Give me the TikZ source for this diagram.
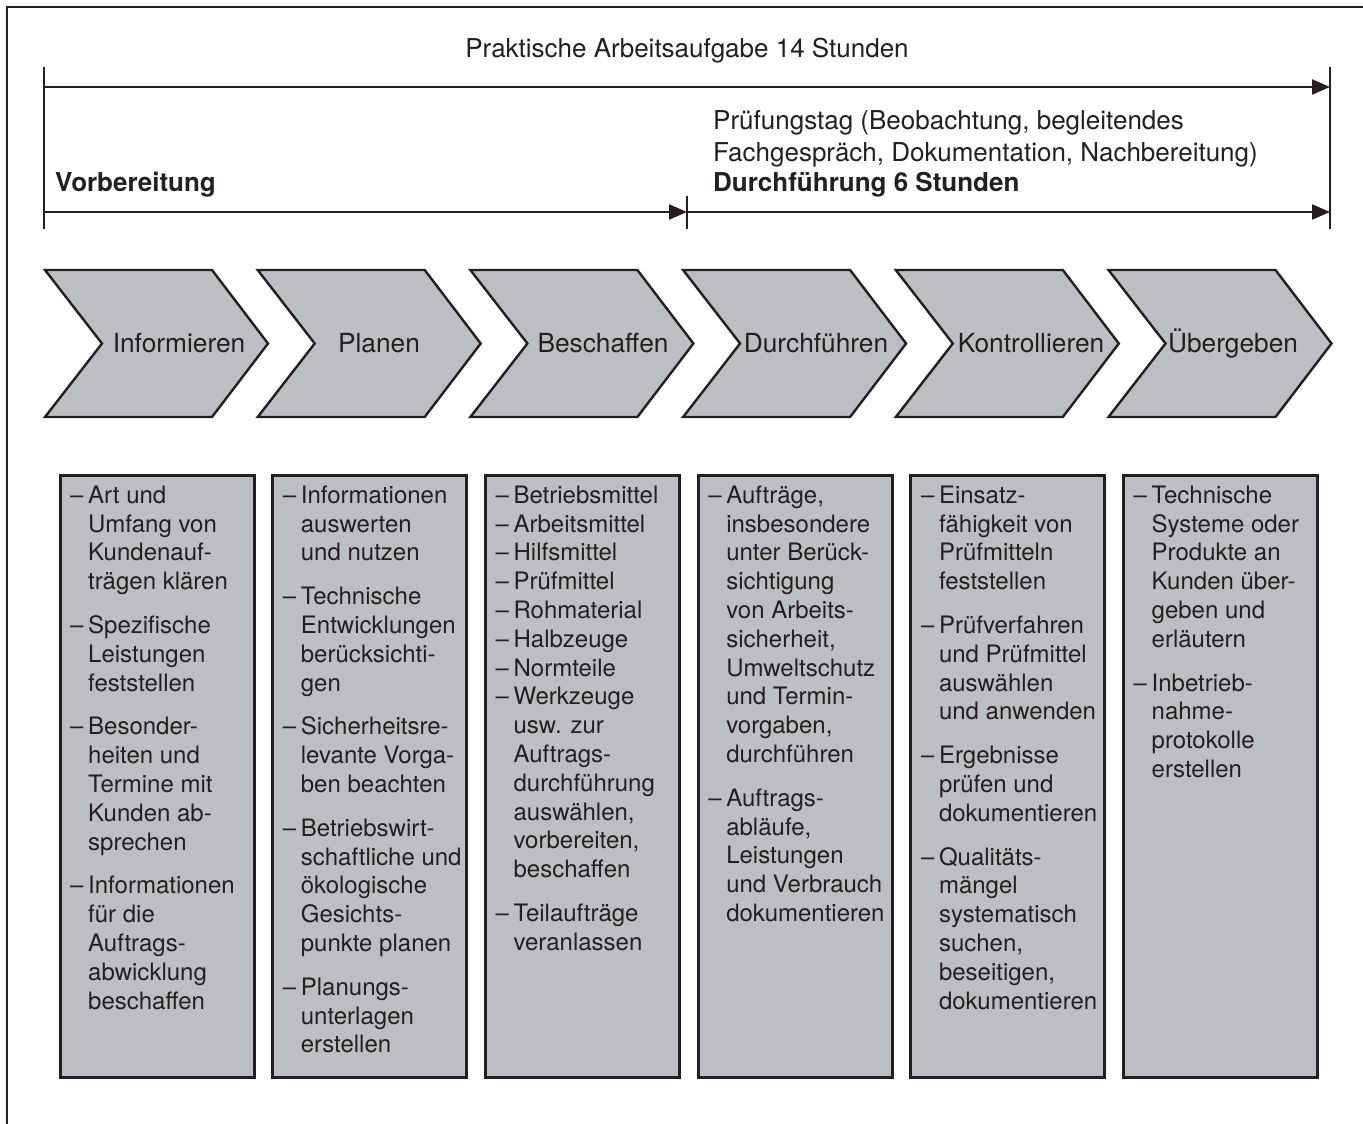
\documentclass[tikz,border=0pt]{standalone}
\usepackage{fontspec}
\setmainfont{TeX Gyre Heros}
\usetikzlibrary{arrows.meta}
\definecolor{ink}{HTML}{231F20}
\definecolor{boxgray}{HTML}{BDBEC2}
\newcommand\da{\makebox[18pt][l]{–}}
\newcommand\ii{\hspace*{18pt}}
\newcommand\fl{\rule{0pt}{18pt}}
\tikzset{
  frameline/.style={line width=2.5pt, draw=ink},
  span/.style={line width=2.2pt, draw=ink, -{Triangle[length=18pt,width=15pt]}},
  tick/.style={line width=2.2pt, draw=ink},
  chev/.style={line width=2.4pt, draw=ink, fill=boxgray, line join=miter},
  chevtext/.style={font=\fontsize{26.3}{31}\selectfont, text=ink, anchor=base, inner sep=0pt},
  listbox/.style={line width=3pt, draw=ink, fill=boxgray},
  listtext/.style={font=\fontsize{24}{28.8}\selectfont, text=ink, align=left, anchor=north west, inner sep=0pt},
  toptext/.style={font=\fontsize{26}{31}\selectfont, text=ink, inner sep=0pt, anchor=base west},
}
\begin{document}
\begin{tikzpicture}[x=1pt,y=-1pt]
\useasboundingbox (0,0) rectangle (1363,1124);
% outer frame (only top and left visible)
\draw[frameline] (1370,7) -- (7,7) -- (7,1130);
% spans
\coordinate (L) at (44,87);
\coordinate (R) at (1330,87);
\coordinate (M) at (687,212);
\coordinate (L2) at (44,212);
\coordinate (R2) at (1330,212);
\draw[tick] (44,67) -- (44,229);
\draw[tick] (1330,67) -- (1330,229);
\draw[tick] (687,196) -- (687,229);
\draw[span] (L) -- (R);
\draw[span] (L2) -- (M);
\draw[span] (M) -- (R2);
\node[font=\fontsize{26}{31}\selectfont, text=ink, anchor=base, inner sep=0pt] (title) at (687,58) {Praktische Arbeitsaufgabe 14 Stunden};
\node[toptext] (vorb) at (55,191) {\bfseries Vorbereitung};
\node[toptext] (pt1) at (713,129) {Prüfungstag (Beobachtung, begleitendes};
\node[toptext] (pt2) at (713,161) {Fachgespräch, Dokumentation, Nachbereitung)};
\node[toptext] (durch) at (713,191) {\bfseries Durchführung 6 Stunden};
% chevrons
\foreach \i in {0,...,5}{
  \pgfmathsetmacro\xo{45+212.7*\i}
  \draw[chev] (\xo,270) -- ++(167,0) -- ++(56,73.5) -- ++(-56,73.5) -- ++(-167,0) -- ++(57,-73.5) -- cycle;
  \draw[listbox] (60+212.7*\i,475) rectangle ++(194,602);
}
\node[chevtext] (c1) at (179,352) {Informieren};
\node[chevtext] (c2) at (379,352) {Planen};
\node[chevtext] (c3) at (603,352) {Beschaffen};
\node[chevtext] (c4) at (816,352) {Durchführen};
\node[chevtext] (c5) at (1031,352) {Kontrollieren};
\node[chevtext] (c6) at (1233,352) {Übergeben};
% list texts
\node[listtext] (t1) at (70,485) {\fl\da Art und\\\ii Umfang von\\\ii Kundenauf-\\\ii trägen klären\\[15pt]
\da Spezifische\\\ii Leistungen\\\ii feststellen\\[15pt]
\da Besonder-\\\ii heiten und\\\ii Termine mit\\\ii Kunden ab-\\\ii sprechen\\[15pt]
\da Informationen\\\ii für die\\\ii Auftrags-\\\ii abwicklung\\\ii beschaffen};
\node[listtext] (t2) at (282.7,485) {\fl\da Informationen\\\ii auswerten\\\ii und nutzen\\[15pt]
\da Technische\\\ii Entwicklungen\\\ii berücksichti-\\\ii gen\\[15pt]
\da Sicherheitsre-\\\ii levante Vorga-\\\ii ben beachten\\[15pt]
\da Betriebswirt-\\\ii schaftliche und\\\ii ökologische\\\ii Gesichts-\\\ii punkte planen\\[15pt]
\da Planungs-\\\ii unterlagen\\\ii erstellen};
\node[listtext] (t3) at (495.4,485) {\fl\da Betriebsmittel\\
\da Arbeitsmittel\\
\da Hilfsmittel\\
\da Prüfmittel\\
\da Rohmaterial\\
\da Halbzeuge\\
\da Normteile\\
\da Werkzeuge\\\ii usw. zur\\\ii Auftrags-\\\ii durchführung\\\ii auswählen,\\\ii vorbereiten,\\\ii beschaffen\\[15pt]
\da Teilaufträge\\\ii veranlassen};
\node[listtext] (t4) at (708.1,485) {\fl\da Aufträge,\\\ii insbesondere\\\ii unter Berück-\\\ii sichtigung\\\ii von Arbeits-\\\ii sicherheit,\\\ii Umweltschutz\\\ii und Termin-\\\ii vorgaben,\\\ii durchführen\\[15pt]
\da Auftrags-\\\ii abläufe,\\\ii Leistungen\\\ii und Verbrauch\\\ii dokumentieren};
\node[listtext] (t5) at (920.8,485) {\fl\da Einsatz-\\\ii fähigkeit von\\\ii Prüfmitteln\\\ii feststellen\\[15pt]
\da Prüfverfahren\\\ii und Prüfmittel\\\ii auswählen\\\ii und anwenden\\[15pt]
\da Ergebnisse\\\ii prüfen und\\\ii dokumentieren\\[15pt]
\da Qualitäts-\\\ii mängel\\\ii systematisch\\\ii suchen,\\\ii beseitigen,\\\ii dokumentieren};
\node[listtext] (t6) at (1133.5,485) {\fl\da Technische\\\ii Systeme oder\\\ii Produkte an\\\ii Kunden über-\\\ii geben und\\\ii erläutern\\[15pt]
\da Inbetrieb-\\\ii nahme-\\\ii protokolle\\\ii erstellen};
\end{tikzpicture}
\end{document}
